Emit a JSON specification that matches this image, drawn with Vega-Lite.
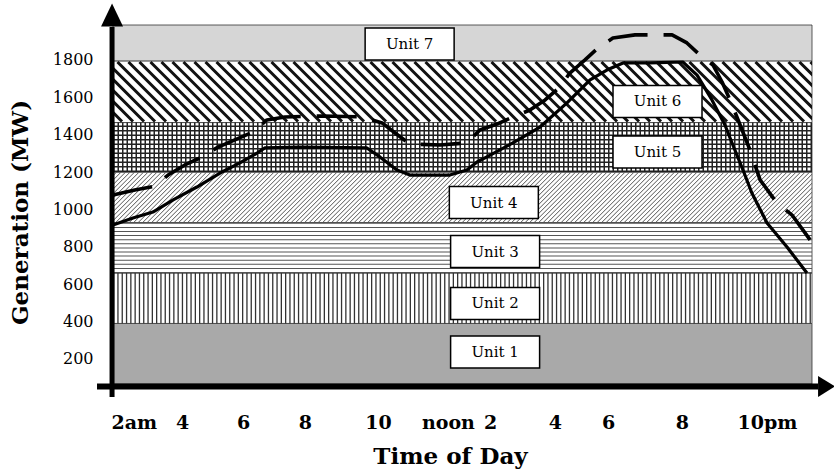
{
  "$schema": "https://vega.github.io/schema/vega-lite/v6.json",
  "width": 699,
  "height": 359,
  "autosize": {"type": "none"},
  "padding": {"left": 113, "top": 25, "right": 22, "bottom": 89},
  "background": "white",
  "config": {"view": {"stroke": null}},
  "datasets": {
    "bands": [
      {"unit": "Unit 1", "low": 66, "high": 390, "lx": 13.41, "ly": 237},
      {"unit": "Unit 2", "low": 390, "high": 660, "lx": 13.41, "ly": 497},
      {"unit": "Unit 3", "low": 660, "high": 930, "lx": 13.41, "ly": 775},
      {"unit": "Unit 4", "low": 930, "high": 1200, "lx": 13.37, "ly": 1037},
      {"unit": "Unit 5", "low": 1200, "high": 1465, "lx": 18.54, "ly": 1307},
      {"unit": "Unit 6", "low": 1465, "high": 1795, "lx": 18.54, "ly": 1578},
      {"unit": "Unit 7", "low": 1795, "high": 1987, "lx": 10.71, "ly": 1885}
    ],
    "curves": [
      {"series": "solid", "h": 1.34, "mw": 917},
      {"series": "solid", "h": 1.97, "mw": 954},
      {"series": "solid", "h": 2.6, "mw": 986},
      {"series": "solid", "h": 3.24, "mw": 1051},
      {"series": "solid", "h": 3.99, "mw": 1120},
      {"series": "solid", "h": 4.72, "mw": 1195},
      {"series": "solid", "h": 5.35, "mw": 1249},
      {"series": "solid", "h": 5.89, "mw": 1302},
      {"series": "solid", "h": 6.14, "mw": 1329},
      {"series": "solid", "h": 7.25, "mw": 1334},
      {"series": "solid", "h": 9.36, "mw": 1329},
      {"series": "solid", "h": 9.77, "mw": 1281},
      {"series": "solid", "h": 10.31, "mw": 1211},
      {"series": "solid", "h": 10.72, "mw": 1184},
      {"series": "solid", "h": 11.98, "mw": 1184},
      {"series": "solid", "h": 12.52, "mw": 1211},
      {"series": "solid", "h": 12.84, "mw": 1254},
      {"series": "solid", "h": 13.15, "mw": 1281},
      {"series": "solid", "h": 13.97, "mw": 1356},
      {"series": "solid", "h": 14.83, "mw": 1441},
      {"series": "solid", "h": 15.68, "mw": 1570},
      {"series": "solid", "h": 16.41, "mw": 1693},
      {"series": "solid", "h": 16.94, "mw": 1746},
      {"series": "solid", "h": 17.45, "mw": 1784},
      {"series": "solid", "h": 18.3, "mw": 1784},
      {"series": "solid", "h": 19.34, "mw": 1789},
      {"series": "solid", "h": 19.79, "mw": 1719},
      {"series": "solid", "h": 20.26, "mw": 1586},
      {"series": "solid", "h": 20.67, "mw": 1452},
      {"series": "solid", "h": 20.92, "mw": 1345},
      {"series": "solid", "h": 21.24, "mw": 1211},
      {"series": "solid", "h": 21.52, "mw": 1088},
      {"series": "solid", "h": 22.0, "mw": 928},
      {"series": "solid", "h": 22.63, "mw": 799},
      {"series": "solid", "h": 23.26, "mw": 660},
      {"series": "dashed", "h": 1.34, "mw": 1077},
      {"series": "dashed", "h": 2.03, "mw": 1104},
      {"series": "dashed", "h": 2.67, "mw": 1125},
      {"series": "dashed", "h": 3.08, "mw": 1184},
      {"series": "dashed", "h": 3.61, "mw": 1238},
      {"series": "dashed", "h": 4.15, "mw": 1281},
      {"series": "dashed", "h": 4.66, "mw": 1334},
      {"series": "dashed", "h": 5.19, "mw": 1372},
      {"series": "dashed", "h": 5.76, "mw": 1414},
      {"series": "dashed", "h": 6.2, "mw": 1479},
      {"series": "dashed", "h": 6.77, "mw": 1495},
      {"series": "dashed", "h": 7.97, "mw": 1500},
      {"series": "dashed", "h": 9.2, "mw": 1495},
      {"series": "dashed", "h": 9.84, "mw": 1463},
      {"series": "dashed", "h": 10.25, "mw": 1409},
      {"series": "dashed", "h": 10.72, "mw": 1350},
      {"series": "dashed", "h": 11.67, "mw": 1345},
      {"series": "dashed", "h": 12.52, "mw": 1356},
      {"series": "dashed", "h": 12.93, "mw": 1425},
      {"series": "dashed", "h": 13.47, "mw": 1457},
      {"series": "dashed", "h": 13.97, "mw": 1495},
      {"series": "dashed", "h": 14.51, "mw": 1532},
      {"series": "dashed", "h": 14.99, "mw": 1586},
      {"series": "dashed", "h": 15.46, "mw": 1655},
      {"series": "dashed", "h": 15.77, "mw": 1730},
      {"series": "dashed", "h": 16.25, "mw": 1800},
      {"series": "dashed", "h": 16.66, "mw": 1864},
      {"series": "dashed", "h": 17.13, "mw": 1917},
      {"series": "dashed", "h": 17.83, "mw": 1934},
      {"series": "dashed", "h": 19.0, "mw": 1934},
      {"series": "dashed", "h": 19.47, "mw": 1891},
      {"series": "dashed", "h": 19.88, "mw": 1826},
      {"series": "dashed", "h": 20.29, "mw": 1773},
      {"series": "dashed", "h": 20.58, "mw": 1682},
      {"series": "dashed", "h": 20.83, "mw": 1586},
      {"series": "dashed", "h": 21.15, "mw": 1452},
      {"series": "dashed", "h": 21.46, "mw": 1318},
      {"series": "dashed", "h": 21.78, "mw": 1158},
      {"series": "dashed", "h": 22.31, "mw": 1035},
      {"series": "dashed", "h": 22.79, "mw": 970},
      {"series": "dashed", "h": 23.36, "mw": 837}
    ]
  },
  "layer": [
    {
      "data": {"name": "bands"},
      "mark": {"type": "rect", "stroke": "#333333", "strokeWidth": 0.8},
      "encoding": {
        "x": {
          "datum": 1.34,
          "type": "quantitative",
          "scale": {"domain": [1.34, 23.42], "nice": false, "zero": false},
          "axis": {
            "values": [2, 3.52, 5.45, 7.4, 9.71, 11.92, 13.25, 15.3, 16.98, 19.31, 22],
            "labelExpr": "['2am','4','6','8','10','noon','2','4','6','8','10pm'][indexof([2,3.52,5.45,7.4,9.71,11.92,13.25,15.3,16.98,19.31,22], datum.value)]",
            "domain": false, "ticks": false, "grid": false,
            "labelFont": "DejaVu Serif", "labelFontWeight": "bold", "labelFontSize": 19,
            "labelColor": "black", "labelPadding": 29, "labelBaseline": "top",
            "labelOverlap": false, "labelFlush": false,
            "title": "Time of Day", "titleFont": "DejaVu Serif", "titleFontWeight": "bold",
            "titleFontSize": 23, "titleColor": "black", "titleX": 337, "titleY": 79,
            "titleAlign": "center", "titleBaseline": "alphabetic"
          }
        },
        "x2": {"datum": 23.42},
        "y": {
          "field": "low",
          "type": "quantitative",
          "scale": {"domain": [66, 1987], "nice": false, "zero": false},
          "axis": {
            "values": [200, 400, 600, 800, 1000, 1200, 1400, 1600, 1800],
            "format": "d",
            "domain": false, "ticks": false, "grid": false,
            "labelFont": "DejaVu Serif", "labelFontSize": 16, "labelColor": "black",
            "labelPadding": 20,
            "title": "Generation (MW)", "titleFont": "DejaVu Serif", "titleFontWeight": "bold",
            "titleFontSize": 23, "titleColor": "black", "titleX": -86, "titleY": 187,
            "titleAngle": -90, "titleAlign": "center", "titleBaseline": "alphabetic"
          }
        },
        "y2": {"field": "high"},
        "fill": {
          "field": "unit",
          "type": "nominal",
          "scale": {
            "domain": ["Unit 1", "Unit 2", "Unit 3", "Unit 4", "Unit 5", "Unit 6", "Unit 7"],
            "range": ["#a9a9a9", "#ffffff", "#ffffff", "#ffffff", "#ffffff", "#ffffff", "#d6d6d6"]
          },
          "legend": null
        }
      }
    },
    {
      "data": {"name": "bands"},
      "transform": [{"filter": "datum.unit == 'Unit 4'"}, {"calculate": "(datum.low + datum.high) / 2", "as": "mid"}],
      "mark": {
        "type": "point", "size": 4, "filled": false, "color": "#555555", "strokeWidth": 1, "opacity": 1, "clip": true, "strokeCap": "butt",
        "shape": "M-400.5,24.9l49.8,-49.8m-45.3,49.8l49.8,-49.8m-45.3,49.8l49.8,-49.8m-45.3,49.8l49.8,-49.8m-45.3,49.8l49.8,-49.8m-45.3,49.8l49.8,-49.8m-45.3,49.8l49.8,-49.8m-45.3,49.8l49.8,-49.8m-45.3,49.8l49.8,-49.8m-45.3,49.8l49.8,-49.8m-45.3,49.8l49.8,-49.8m-45.3,49.8l49.8,-49.8m-45.3,49.8l49.8,-49.8m-45.3,49.8l49.8,-49.8m-45.3,49.8l49.8,-49.8m-45.3,49.8l49.8,-49.8m-45.3,49.8l49.8,-49.8m-45.3,49.8l49.8,-49.8m-45.3,49.8l49.8,-49.8m-45.3,49.8l49.8,-49.8m-45.3,49.8l49.8,-49.8m-45.3,49.8l49.8,-49.8m-45.3,49.8l49.8,-49.8m-45.3,49.8l49.8,-49.8m-45.3,49.8l49.8,-49.8m-45.3,49.8l49.8,-49.8m-45.3,49.8l49.8,-49.8m-45.3,49.8l49.8,-49.8m-45.3,49.8l49.8,-49.8m-45.3,49.8l49.8,-49.8m-45.3,49.8l49.8,-49.8m-45.3,49.8l49.8,-49.8m-45.3,49.8l49.8,-49.8m-45.3,49.8l49.8,-49.8m-45.3,49.8l49.8,-49.8m-45.3,49.8l49.8,-49.8m-45.3,49.8l49.8,-49.8m-45.3,49.8l49.8,-49.8m-45.3,49.8l49.8,-49.8m-45.3,49.8l49.8,-49.8m-45.3,49.8l49.8,-49.8m-45.3,49.8l49.8,-49.8m-45.3,49.8l49.8,-49.8m-45.3,49.8l49.8,-49.8m-45.3,49.8l49.8,-49.8m-45.3,49.8l49.8,-49.8m-45.3,49.8l49.8,-49.8m-45.3,49.8l49.8,-49.8m-45.3,49.8l49.8,-49.8m-45.3,49.8l49.8,-49.8m-45.3,49.8l49.8,-49.8m-45.3,49.8l49.8,-49.8m-45.3,49.8l49.8,-49.8m-45.3,49.8l49.8,-49.8m-45.3,49.8l49.8,-49.8m-45.3,49.8l49.8,-49.8m-45.3,49.8l49.8,-49.8m-45.3,49.8l49.8,-49.8m-45.3,49.8l49.8,-49.8m-45.3,49.8l49.8,-49.8m-45.3,49.8l49.8,-49.8m-45.3,49.8l49.8,-49.8m-45.3,49.8l49.8,-49.8m-45.3,49.8l49.8,-49.8m-45.3,49.8l49.8,-49.8m-45.3,49.8l49.8,-49.8m-45.3,49.8l49.8,-49.8m-45.3,49.8l49.8,-49.8m-45.3,49.8l49.8,-49.8m-45.3,49.8l49.8,-49.8m-45.3,49.8l49.8,-49.8m-45.3,49.8l49.8,-49.8m-45.3,49.8l49.8,-49.8m-45.3,49.8l49.8,-49.8m-45.3,49.8l49.8,-49.8m-45.3,49.8l49.8,-49.8m-45.3,49.8l49.8,-49.8m-45.3,49.8l49.8,-49.8m-45.3,49.8l49.8,-49.8m-45.3,49.8l49.8,-49.8m-45.3,49.8l49.8,-49.8m-45.3,49.8l49.8,-49.8m-45.3,49.8l49.8,-49.8m-45.3,49.8l49.8,-49.8m-45.3,49.8l49.8,-49.8m-45.3,49.8l49.8,-49.8m-45.3,49.8l49.8,-49.8m-45.3,49.8l49.8,-49.8m-45.3,49.8l49.8,-49.8m-45.3,49.8l49.8,-49.8m-45.3,49.8l49.8,-49.8m-45.3,49.8l49.8,-49.8m-45.3,49.8l49.8,-49.8m-45.3,49.8l49.8,-49.8m-45.3,49.8l49.8,-49.8m-45.3,49.8l49.8,-49.8m-45.3,49.8l49.8,-49.8m-45.3,49.8l49.8,-49.8m-45.3,49.8l49.8,-49.8m-45.3,49.8l49.8,-49.8m-45.3,49.8l49.8,-49.8m-45.3,49.8l49.8,-49.8m-45.3,49.8l49.8,-49.8m-45.3,49.8l49.8,-49.8m-45.3,49.8l49.8,-49.8m-45.3,49.8l49.8,-49.8m-45.3,49.8l49.8,-49.8m-45.3,49.8l49.8,-49.8m-45.3,49.8l49.8,-49.8m-45.3,49.8l49.8,-49.8m-45.3,49.8l49.8,-49.8m-45.3,49.8l49.8,-49.8m-45.3,49.8l49.8,-49.8m-45.3,49.8l49.8,-49.8m-45.3,49.8l49.8,-49.8m-45.3,49.8l49.8,-49.8m-45.3,49.8l49.8,-49.8m-45.3,49.8l49.8,-49.8m-45.3,49.8l49.8,-49.8m-45.3,49.8l49.8,-49.8m-45.3,49.8l49.8,-49.8m-45.3,49.8l49.8,-49.8m-45.3,49.8l49.8,-49.8m-45.3,49.8l49.8,-49.8m-45.3,49.8l49.8,-49.8m-45.3,49.8l49.8,-49.8m-45.3,49.8l49.8,-49.8m-45.3,49.8l49.8,-49.8m-45.3,49.8l49.8,-49.8m-45.3,49.8l49.8,-49.8m-45.3,49.8l49.8,-49.8m-45.3,49.8l49.8,-49.8m-45.3,49.8l49.8,-49.8m-45.3,49.8l49.8,-49.8m-45.3,49.8l49.8,-49.8m-45.3,49.8l49.8,-49.8m-45.3,49.8l49.8,-49.8m-45.3,49.8l49.8,-49.8m-45.3,49.8l49.8,-49.8m-45.3,49.8l49.8,-49.8m-45.3,49.8l49.8,-49.8m-45.3,49.8l49.8,-49.8m-45.3,49.8l49.8,-49.8m-45.3,49.8l49.8,-49.8m-45.3,49.8l49.8,-49.8m-45.3,49.8l49.8,-49.8m-45.3,49.8l49.8,-49.8m-45.3,49.8l49.8,-49.8m-45.3,49.8l49.8,-49.8m-45.3,49.8l49.8,-49.8m-45.3,49.8l49.8,-49.8m-45.3,49.8l49.8,-49.8m-45.3,49.8l49.8,-49.8m-45.3,49.8l49.8,-49.8m-45.3,49.8l49.8,-49.8m-45.3,49.8l49.8,-49.8m-45.3,49.8l49.8,-49.8m-45.3,49.8l49.8,-49.8m-45.3,49.8l49.8,-49.8m-45.3,49.8l49.8,-49.8m-45.3,49.8l49.8,-49.8m-45.3,49.8l49.8,-49.8m-45.3,49.8l49.8,-49.8m-45.3,49.8l49.8,-49.8m-45.3,49.8l49.8,-49.8m-45.3,49.8l49.8,-49.8m-45.3,49.8l49.8,-49.8m-45.3,49.8l49.8,-49.8m-45.3,49.8l49.8,-49.8m-45.3,49.8"
      },
      "encoding": {
        "x": {"datum": 12.38, "type": "quantitative"},
        "y": {"field": "mid", "type": "quantitative"}
      }
    },
    {
      "data": {"name": "bands"},
      "transform": [{"filter": "datum.unit == 'Unit 6'"}, {"calculate": "(datum.low + datum.high) / 2", "as": "mid"}],
      "mark": {
        "type": "point", "size": 4, "filled": false, "color": "#111111", "strokeWidth": 3, "opacity": 1, "clip": true, "strokeCap": "butt",
        "shape": "M-411,-29.75l59.5,59.5m-48.5,-59.5l59.5,59.5m-48.5,-59.5l59.5,59.5m-48.5,-59.5l59.5,59.5m-48.5,-59.5l59.5,59.5m-48.5,-59.5l59.5,59.5m-48.5,-59.5l59.5,59.5m-48.5,-59.5l59.5,59.5m-48.5,-59.5l59.5,59.5m-48.5,-59.5l59.5,59.5m-48.5,-59.5l59.5,59.5m-48.5,-59.5l59.5,59.5m-48.5,-59.5l59.5,59.5m-48.5,-59.5l59.5,59.5m-48.5,-59.5l59.5,59.5m-48.5,-59.5l59.5,59.5m-48.5,-59.5l59.5,59.5m-48.5,-59.5l59.5,59.5m-48.5,-59.5l59.5,59.5m-48.5,-59.5l59.5,59.5m-48.5,-59.5l59.5,59.5m-48.5,-59.5l59.5,59.5m-48.5,-59.5l59.5,59.5m-48.5,-59.5l59.5,59.5m-48.5,-59.5l59.5,59.5m-48.5,-59.5l59.5,59.5m-48.5,-59.5l59.5,59.5m-48.5,-59.5l59.5,59.5m-48.5,-59.5l59.5,59.5m-48.5,-59.5l59.5,59.5m-48.5,-59.5l59.5,59.5m-48.5,-59.5l59.5,59.5m-48.5,-59.5l59.5,59.5m-48.5,-59.5l59.5,59.5m-48.5,-59.5l59.5,59.5m-48.5,-59.5l59.5,59.5m-48.5,-59.5l59.5,59.5m-48.5,-59.5l59.5,59.5m-48.5,-59.5l59.5,59.5m-48.5,-59.5l59.5,59.5m-48.5,-59.5l59.5,59.5m-48.5,-59.5l59.5,59.5m-48.5,-59.5l59.5,59.5m-48.5,-59.5l59.5,59.5m-48.5,-59.5l59.5,59.5m-48.5,-59.5l59.5,59.5m-48.5,-59.5l59.5,59.5m-48.5,-59.5l59.5,59.5m-48.5,-59.5l59.5,59.5m-48.5,-59.5l59.5,59.5m-48.5,-59.5l59.5,59.5m-48.5,-59.5l59.5,59.5m-48.5,-59.5l59.5,59.5m-48.5,-59.5l59.5,59.5m-48.5,-59.5l59.5,59.5m-48.5,-59.5l59.5,59.5m-48.5,-59.5l59.5,59.5m-48.5,-59.5l59.5,59.5m-48.5,-59.5l59.5,59.5m-48.5,-59.5l59.5,59.5m-48.5,-59.5l59.5,59.5m-48.5,-59.5l59.5,59.5m-48.5,-59.5l59.5,59.5m-48.5,-59.5l59.5,59.5m-48.5,-59.5l59.5,59.5m-48.5,-59.5l59.5,59.5m-48.5,-59.5l59.5,59.5m-48.5,-59.5l59.5,59.5m-48.5,-59.5l59.5,59.5m-48.5,-59.5l59.5,59.5m-48.5,-59.5l59.5,59.5m-48.5,-59.5l59.5,59.5m-48.5,-59.5l59.5,59.5m-48.5,-59.5l59.5,59.5m-48.5,-59.5"
      },
      "encoding": {
        "x": {"datum": 12.38, "type": "quantitative"},
        "y": {"field": "mid", "type": "quantitative"}
      }
    },
    {
      "data": {"name": "bands"},
      "transform": [{"filter": "datum.unit == 'Unit 2'"}, {"calculate": "(datum.low + datum.high) / 2", "as": "mid"}],
      "mark": {"type": "rule", "color": "#333333", "strokeWidth": 50.46, "strokeDash": [1.3, 3], "strokeCap": "butt"},
      "encoding": {
        "x": {"datum": 1.34, "type": "quantitative"},
        "x2": {"datum": 23.42},
        "y": {"field": "mid", "type": "quantitative"}
      }
    },
    {
      "data": {"name": "bands"},
      "transform": [{"filter": "datum.unit == 'Unit 3'"}],
      "mark": {"type": "rule", "color": "#555555", "strokeWidth": 699, "strokeDash": [1, 3.1], "strokeCap": "butt"},
      "encoding": {
        "x": {"datum": 12.38, "type": "quantitative"},
        "y": {"field": "low", "type": "quantitative"},
        "y2": {"field": "high"}
      }
    },
    {
      "data": {"name": "bands"},
      "transform": [{"filter": "datum.unit == 'Unit 5'"}, {"calculate": "(datum.low + datum.high) / 2", "as": "mid"}],
      "mark": {"type": "rule", "color": "#222222", "strokeWidth": 49.52, "strokeDash": [1.5, 3], "strokeCap": "butt"},
      "encoding": {
        "x": {"datum": 1.34, "type": "quantitative"},
        "x2": {"datum": 23.42},
        "y": {"field": "mid", "type": "quantitative"}
      }
    },
    {
      "data": {"name": "bands"},
      "transform": [{"filter": "datum.unit == 'Unit 5'"}],
      "mark": {"type": "rule", "color": "#222222", "strokeWidth": 699, "strokeDash": [1.5, 3], "strokeCap": "butt"},
      "encoding": {
        "x": {"datum": 12.38, "type": "quantitative"},
        "y": {"field": "low", "type": "quantitative"},
        "y2": {"field": "high"}
      }
    },
    {
      "data": {"name": "curves"},
      "transform": [{"filter": "datum.series == 'solid'"}],
      "mark": {"type": "line", "color": "black", "strokeWidth": 3.2, "strokeJoin": "round"},
      "encoding": {
        "x": {"field": "h", "type": "quantitative"},
        "y": {"field": "mw", "type": "quantitative"}
      }
    },
    {
      "data": {"name": "curves"},
      "transform": [{"filter": "datum.series == 'dashed'"}],
      "mark": {"type": "line", "color": "black", "strokeWidth": 3.6, "strokeDash": [40, 16], "strokeJoin": "round"},
      "encoding": {
        "x": {"field": "h", "type": "quantitative"},
        "y": {"field": "mw", "type": "quantitative"}
      }
    },
    {
      "data": {"name": "bands"},
      "mark": {"type": "point", "size": 4, "shape": "M-44.5,-16H44.5V16H-44.5Z", "filled": true, "fill": "white", "stroke": "black", "strokeWidth": 1.5, "opacity": 1},
      "encoding": {
        "x": {"field": "lx", "type": "quantitative"},
        "y": {"field": "ly", "type": "quantitative"}
      }
    },
    {
      "data": {"name": "bands"},
      "mark": {"type": "text", "font": "DejaVu Serif", "fontSize": 15, "color": "black", "align": "center", "baseline": "middle"},
      "encoding": {
        "x": {"field": "lx", "type": "quantitative"},
        "y": {"field": "ly", "type": "quantitative"},
        "text": {"field": "unit"}
      }
    },
    {
      "data": {"values": [{}]},
      "mark": {"type": "rule", "color": "black", "strokeWidth": 5, "strokeCap": "butt"},
      "encoding": {
        "x": {"datum": 1.31, "type": "quantitative"},
        "y": {"datum": -3, "type": "quantitative"},
        "y2": {"datum": 1976}
      }
    },
    {
      "data": {"values": [{}]},
      "mark": {"type": "rule", "color": "black", "strokeWidth": 6, "strokeCap": "butt"},
      "encoding": {
        "x": {"datum": 0.835, "type": "quantitative"},
        "x2": {"datum": 23.61},
        "y": {"datum": 53, "type": "quantitative"}
      }
    },
    {
      "data": {"values": [{}]},
      "mark": {"type": "point", "size": 4, "shape": "M0,-11.5L11,11.5L-11,11.5Z", "filled": true, "color": "black", "opacity": 1},
      "encoding": {
        "x": {"datum": 1.31, "type": "quantitative"},
        "y": {"datum": 2041, "type": "quantitative"}
      }
    },
    {
      "data": {"values": [{}]},
      "mark": {"type": "point", "size": 4, "shape": "M8.5,0L-8.5,-10.5L-8.5,10.5Z", "filled": true, "color": "black", "opacity": 1},
      "encoding": {
        "x": {"datum": 23.88, "type": "quantitative"},
        "y": {"datum": 53, "type": "quantitative"}
      }
    }
  ]
}
